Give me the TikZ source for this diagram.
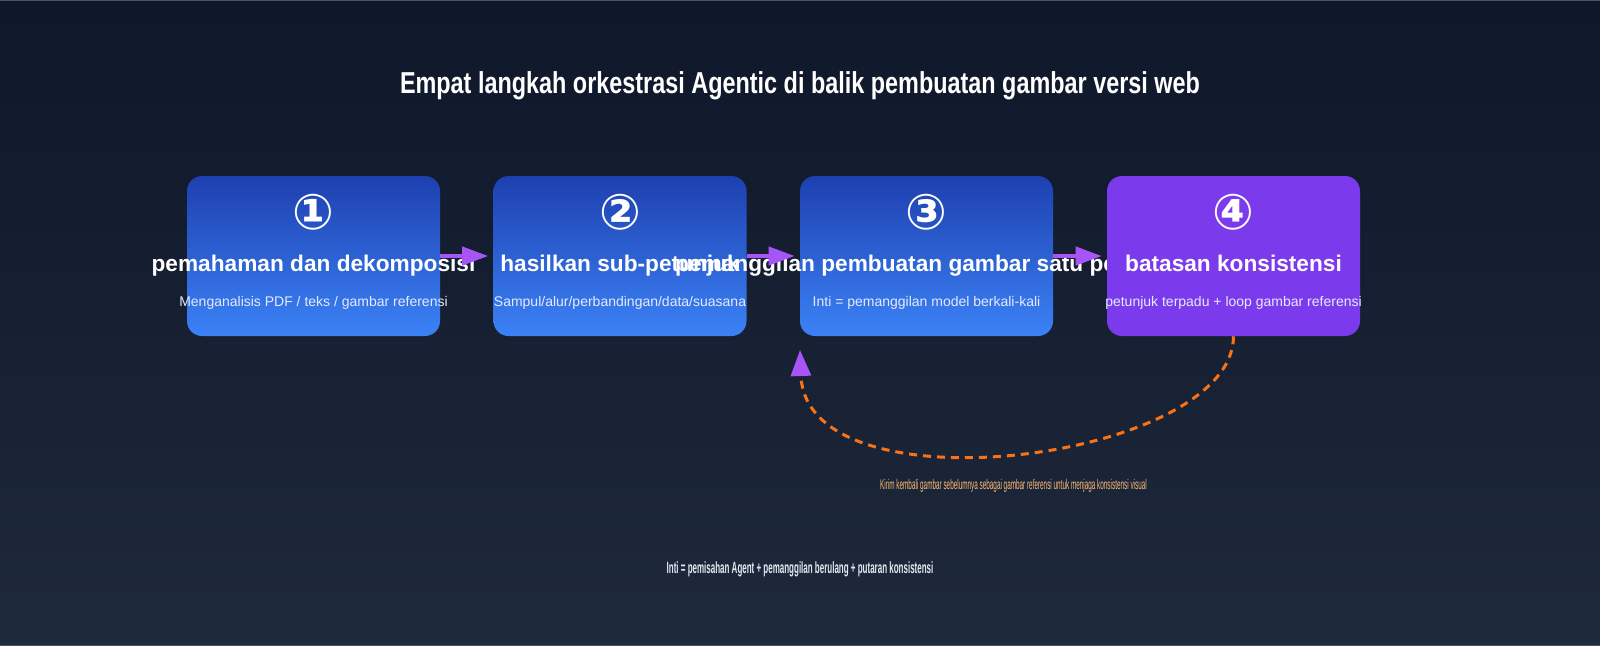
\documentclass[tikz,border=0pt]{standalone}
\usepackage{fontspec}
\setmainfont{Liberation Sans}
\newfontfamily\symfont{DejaVu Sans}
\usetikzlibrary{arrows.meta,calc}
\definecolor{bgA}{HTML}{0F172A}
\definecolor{bgB}{HTML}{1E293B}
\definecolor{edgegray}{HTML}{4B5263}
\definecolor{blueTop}{HTML}{1E40AF}
\definecolor{blueBot}{HTML}{3B82F6}
\definecolor{violetbox}{HTML}{7C3AED}
\definecolor{arrowpurple}{HTML}{A855F7}
\definecolor{loopor}{HTML}{F97316}
\definecolor{labelor}{HTML}{FDBA74}
\definecolor{subtxt}{HTML}{E6EAFF}
\definecolor{foottxt}{HTML}{E2E8F0}
\begin{document}
\begin{tikzpicture}[x=0.75pt,y=-0.75pt,
  stepbox/.style={rounded corners=11.25pt, minimum width=189.75pt, minimum height=120pt, inner sep=0pt, draw=none},
  bluebox/.style={stepbox, top color=blueTop, bottom color=blueBot},
  purplebox/.style={stepbox, fill=violetbox},
  numtxt/.style={text=white, inner sep=0pt, font=\symfont\bfseries\fontsize{37}{44}\selectfont},
  titletxt/.style={text=white, inner sep=0pt, anchor=base, font=\bfseries\fontsize{17}{20}\selectfont},
  subtitletxt/.style={text=subtxt, inner sep=0pt, anchor=base, font=\fontsize{10.5}{12.6}\selectfont},
  flowarrow/.style={draw=arrowpurple, line width=3pt, -{Triangle[length=19.5pt,width=13.5pt]}},
  loopline/.style={draw=loopor, line width=2.25pt, dash pattern=on 6pt off 4.5pt, -{Triangle[length=19.5pt,width=15pt,color=arrowpurple]}},
  looplabel/.style={text=labelor, inner sep=0pt, anchor=base, font=\fontsize{10.5}{12.6}\selectfont},
  footnote/.style={text=foottxt, inner sep=0pt, anchor=base, font=\bfseries\fontsize{12.2}{14}\selectfont},
  headtxt/.style={text=white, inner sep=0pt, anchor=base, font=\bfseries\fontsize{22.7}{27}\selectfont}
]
\useasboundingbox (0,0) rectangle (1600,646);
\shade[top color=bgA, bottom color=bgB] (0,0) rectangle (1600,646);
\fill[edgegray] (0,0) rectangle (1600,1.3);
\fill[edgegray] (0,644.7) rectangle (1600,646);

\node[headtxt] (title) at (800,93.3) {\resizebox{600pt}{\height}{Empat langkah orkestrasi Agentic di balik pembuatan gambar versi web}};

% step 1
\node[bluebox] (b1) at (313.5,256) {};
\node[numtxt] (n1) at (313.5,212.5) {①};
\node[titletxt] (t1) at (313.5,271.7) {pemahaman dan dekomposisi};
\node[subtitletxt] (s1) at (313.5,306.7) {Menganalisis PDF / teks / gambar referensi};
% step 2
\node[bluebox] (b2) at (620,256) {};
\node[numtxt] (n2) at (620,212.5) {②};
\node[titletxt] (t2) at (620,271.7) {hasilkan sub-petunjuk};
\node[subtitletxt] (s2) at (620,306.7) {Sampul/alur/perbandingan/data/suasana};
% step 3
\node[bluebox] (b3) at (926.5,256) {};
\node[numtxt] (n3) at (926.5,212.5) {③};
\node[titletxt] (t3) at (926.5,271.7) {pemanggilan pembuatan gambar satu per satu};
\node[subtitletxt] (s3) at (926.5,306.7) {Inti = pemanggilan model berkali-kali};
% step 4
\node[purplebox] (b4) at (1233.5,256) {};
\node[numtxt] (n4) at (1233.5,212.5) {④};
\node[titletxt] (t4) at (1233.5,271.7) {batasan konsistensi};
\node[subtitletxt] (s4) at (1233.5,306.7) {petunjuk terpadu + loop gambar referensi};

% flow arrows
\draw[flowarrow] (b1.east) -- ($(b2.west)+(-5,0)$);
\draw[flowarrow] (b2.east) -- ($(b3.west)+(-5,0)$);
\draw[flowarrow] (b3.east) -- ($(b4.west)+(-5,0)$);

% feedback loop
\coordinate (loopend) at (800,350);
\draw[loopline] (b4.south) .. controls +(0,124) and +(6,165) .. (loopend);
\node[looplabel] (lbl) at (1013.5,489.3) {\resizebox{200pt}{\height}{Kirim kembali gambar sebelumnya sebagai gambar referensi untuk menjaga konsistensi visual}};

\node[footnote] (foot) at (800,573.3) {\resizebox{200pt}{\height}{Inti = pemisahan Agent + pemanggilan berulang + putaran konsistensi}};
\end{tikzpicture}
\end{document}
